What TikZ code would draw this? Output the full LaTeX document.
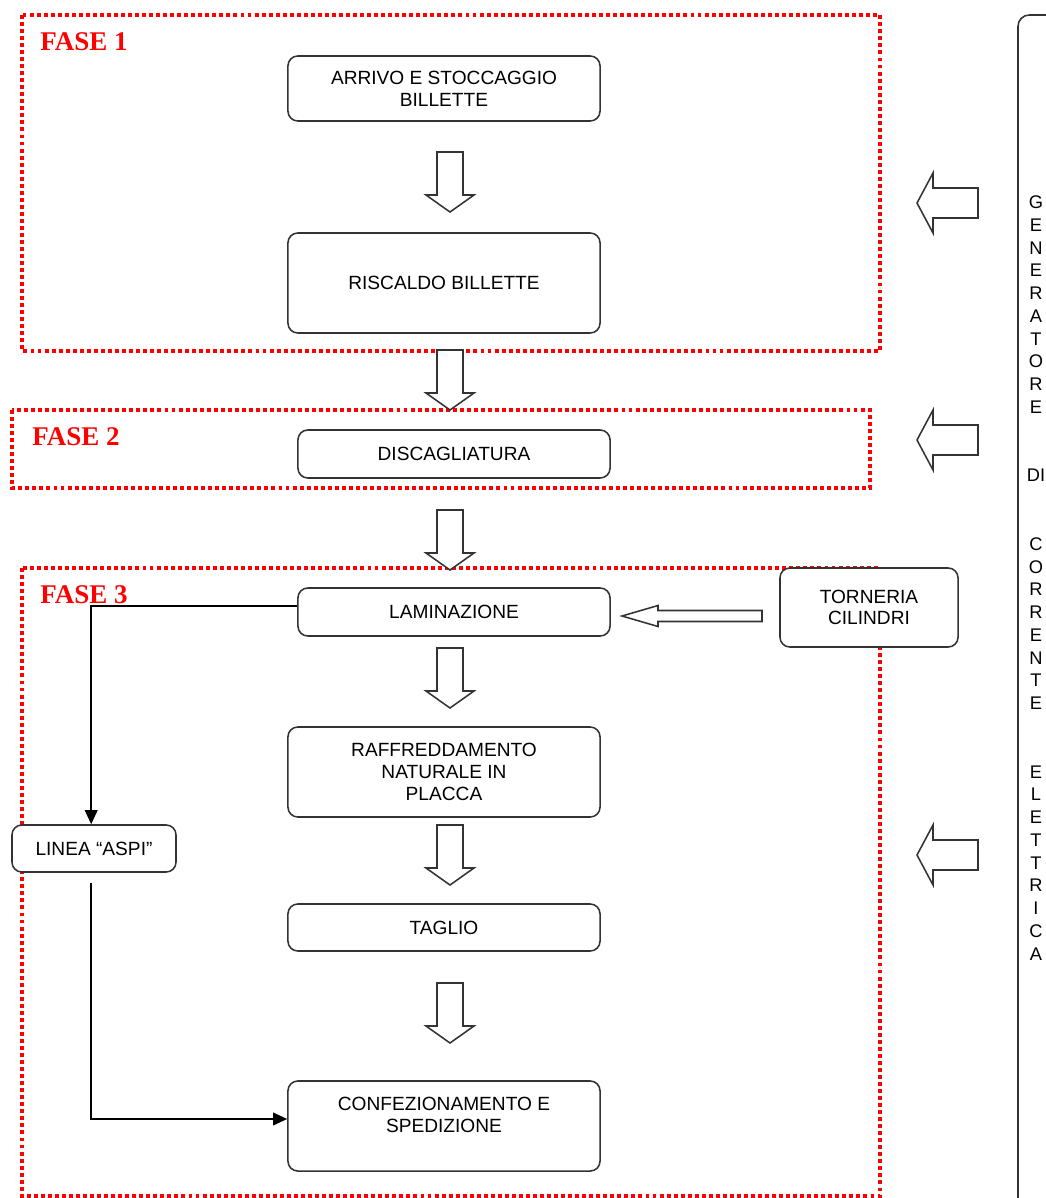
\documentclass[tikz,border=0pt]{standalone}
\usepackage{fontspec}
\setmainfont{Liberation Sans}
\newfontfamily\fasefont{Liberation Serif}
\usetikzlibrary{arrows.meta}

\tikzset{
  stepbox/.style={draw=black!80, line width=1.1pt, rounded corners=7pt, fill=white,
    align=center, inner sep=2pt, font=\fontsize{13.6}{15.5}\selectfont},
  fasebox/.style={draw=red, line width=2.8pt, dash pattern=on 2.8pt off 2.2pt},
  faselabel/.style={text=red, anchor=west, inner sep=0pt,
    font=\fasefont\bfseries\fontsize{19.2}{21}\selectfont},
  blockline/.style={draw=black!80, line width=1.1pt, fill=white},
  flowline/.style={line width=1.1pt, -{Triangle[length=10pt,width=9pt]}},
  gentext/.style={align=center, inner sep=0pt, font=\fontsize{13}{16.2}\selectfont},
  downblock/.pic={
    \path[blockline] (-13,0) -- (13,0) -- (13,43) -- (24,43) -- (0,60)
      -- (-24,43) -- (-13,43) -- cycle;},
  leftblock/.pic={
    \path[blockline] (0,0) -- (16,-30) -- (16,-15) -- (61,-15) -- (61,15)
      -- (16,15) -- (16,30) -- cycle;},
  thinleft/.pic={
    \path[blockline] (0,0) -- (36,-10.5) -- (36,-5.5) -- (140,-5.5) -- (140,5.5)
      -- (36,5.5) -- (36,10.5) -- cycle;},
}

\begin{document}
\begin{tikzpicture}[x=0.025cm, y=-0.025cm]
  \useasboundingbox (0,0) rectangle (1046,1198);

  % fasi
  \draw[fasebox] (22,15) rectangle (880,351);
  \draw[fasebox] (12,410) rectangle (870,488);
  \draw[fasebox] (22,568) rectangle (880,1196);
  \node[faselabel] (fase1) at (40,42) {FASE 1};
  \node[faselabel] (fase2) at (32,437) {FASE 2};
  \node[faselabel] (fase3) at (40,595) {FASE 3};

  % generatore
  \begin{scope}
    \clip (0,0) rectangle (1046,1198);
    \draw[draw=black!80, line width=1.1pt, rounded corners=8pt] (1018,15) rectangle (1100,1260);
  \end{scope}
  \node[gentext] (gen) at (1036,578) {G\\E\\N\\E\\R\\A\\T\\O\\R\\E\\[32.4pt]DI\\[32.4pt]%
    C\\O\\R\\R\\E\\N\\T\\E\\[32.4pt]E\\L\\E\\T\\T\\R\\I\\C\\A};
  \pic at (917,203) {leftblock};
  \pic at (917,440) {leftblock};
  \pic at (917,855) {leftblock};

  % blocchi
  \node[stepbox, minimum width=7.8cm, minimum height=1.625cm] (arrivo) at (444,88.5) {ARRIVO E STOCCAGGIO\\BILLETTE};
  \node[stepbox, minimum width=7.8cm, minimum height=2.5cm] (riscaldo) at (444,283) {RISCALDO BILLETTE};
  \node[stepbox, minimum width=7.8cm, minimum height=1.2cm] (discag) at (454,454) {DISCAGLIATURA};
  \node[stepbox, minimum width=7.8cm, minimum height=1.2cm] (lamin) at (454,612) {LAMINAZIONE};
  \node[stepbox, minimum width=4.45cm, minimum height=1.975cm] (torneria) at (869,607.5) {TORNERIA\\CILINDRI};
  \node[stepbox, minimum width=7.8cm, minimum height=2.25cm] (raffr) at (444,772) {RAFFREDDAMENTO\\NATURALE IN\\PLACCA};
  \node[stepbox, minimum width=4.1cm, minimum height=1.175cm] (aspi) at (94,848.5) {LINEA “ASPI”};
  \node[stepbox, minimum width=7.8cm, minimum height=1.175cm] (taglio) at (444,927.5) {TAGLIO};
  \node[stepbox, minimum width=7.8cm, minimum height=2.25cm] (confez) at (444,1126) {CONFEZIONAMENTO E\\SPEDIZIONE\\~};

  % frecce
  \pic at (450,152) {downblock};
  \pic at (450,350) {downblock};
  \pic at (450,510) {downblock};
  \pic at (450,648) {downblock};
  \pic at (450,825) {downblock};
  \pic at (450,983) {downblock};
  \pic at (622,616) {thinleft};

  \draw[flowline] ([yshift=4.3pt]lamin.west) -| ([xshift=-2pt]aspi.north);
  \draw[flowline, shorten <=7pt] ([xshift=-2pt]aspi.south) |- ([yshift=5pt]confez.west);
\end{tikzpicture}
\end{document}
